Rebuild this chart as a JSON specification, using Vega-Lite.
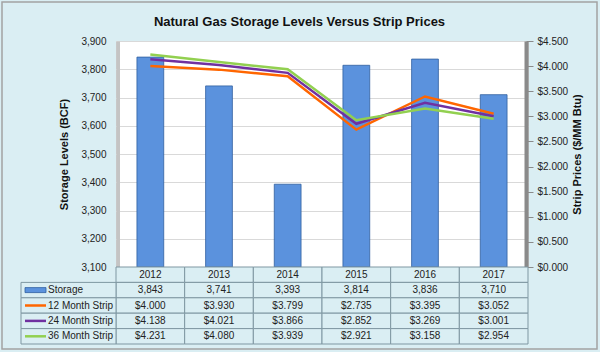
{
  "$schema": "https://vega.github.io/schema/vega-lite/v6.json",
  "width": 412,
  "height": 226,
  "autosize": {"type": "none"},
  "padding": {"left": 116, "top": 41, "right": 72, "bottom": 85},
  "background": "#daeef3",
  "config": {
    "view": {"fill": "white", "stroke": "#c8c8c8"},
    "font": "Liberation Sans"
  },
  "title": {
    "text": "Natural Gas Storage Levels Versus Strip Prices",
    "font": "Liberation Sans",
    "fontSize": 13,
    "fontWeight": "bold",
    "color": "#111111",
    "anchor": "middle",
    "frame": "bounds",
    "offset": -28
  },
  "datasets": {
    "storage": [
      {"year": "2012", "storage": 3843},
      {"year": "2013", "storage": 3741},
      {"year": "2014", "storage": 3393},
      {"year": "2015", "storage": 3814},
      {"year": "2016", "storage": 3836},
      {"year": "2017", "storage": 3710}
    ],
    "prices": [
      {"year": "2012", "series": "12 Month Strip", "price": 4.000},
      {"year": "2013", "series": "12 Month Strip", "price": 3.930},
      {"year": "2014", "series": "12 Month Strip", "price": 3.799},
      {"year": "2015", "series": "12 Month Strip", "price": 2.735},
      {"year": "2016", "series": "12 Month Strip", "price": 3.395},
      {"year": "2017", "series": "12 Month Strip", "price": 3.052},
      {"year": "2012", "series": "24 Month Strip", "price": 4.138},
      {"year": "2013", "series": "24 Month Strip", "price": 4.021},
      {"year": "2014", "series": "24 Month Strip", "price": 3.866},
      {"year": "2015", "series": "24 Month Strip", "price": 2.852},
      {"year": "2016", "series": "24 Month Strip", "price": 3.269},
      {"year": "2017", "series": "24 Month Strip", "price": 3.001},
      {"year": "2012", "series": "36 Month Strip", "price": 4.231},
      {"year": "2013", "series": "36 Month Strip", "price": 4.080},
      {"year": "2014", "series": "36 Month Strip", "price": 3.939},
      {"year": "2015", "series": "36 Month Strip", "price": 2.921},
      {"year": "2016", "series": "36 Month Strip", "price": 3.158},
      {"year": "2017", "series": "36 Month Strip", "price": 2.954}
    ],
    "rows": [
      {"name": "Storage"},
      {"name": "12 Month Strip"},
      {"name": "24 Month Strip"},
      {"name": "36 Month Strip"}
    ]
  },
  "resolve": {"scale": {"x": "independent", "y": "independent", "color": "independent"}},
  "layer": [
    {
      "data": {"values": [{}]},
      "mark": {"type": "rect", "fill": null, "stroke": "#a3a3a3", "strokeWidth": 1.5},
      "encoding": {
        "x": {"datum": 0, "type": "quantitative", "scale": {"domain": [0, 1], "range": [-114, 481]}, "axis": null},
        "x2": {"datum": 1},
        "y": {"datum": 0, "type": "quantitative", "scale": {"domain": [0, 1], "range": [-39, 308]}, "axis": null},
        "y2": {"datum": 1}
      }
    },
    {
      "data": {"name": "storage"},
      "mark": {"type": "bar", "fill": "#5b92dd", "stroke": "#30609f", "strokeWidth": 0.8, "width": {"band": 0.39}},
      "encoding": {
        "x": {"field": "year", "type": "ordinal", "scale": {"domain": ["2012", "2013", "2014", "2015", "2016", "2017"], "range": [0, 412], "paddingInner": 0, "paddingOuter": 0}, "axis": null},
        "y": {
          "field": "storage", "type": "quantitative",
          "scale": {"domain": [3100, 3900], "range": [226, 0], "zero": false, "nice": false},
          "axis": {
            "orient": "left", "offset": -2,
            "values": [3100, 3200, 3300, 3400, 3500, 3600, 3700, 3800, 3900],
            "format": ",.0f", "grid": true, "gridColor": "#d9d9d9",
            "domain": true, "domainColor": "#c4c4c4", "domainWidth": 3,
            "ticks": false, "labelPadding": 12, "labelFontSize": 10, "labelColor": "#222222",
            "title": "Storage Levels (BCF)", "titleFontSize": 11, "titleFontWeight": "bold",
            "titleColor": "#111111", "titlePadding": 11
          }
        },
        "y2": {"datum": 3100}
      }
    },
    {
      "data": {"name": "prices"},
      "mark": {"type": "line", "strokeWidth": 2.5},
      "encoding": {
        "x": {"field": "year", "type": "ordinal", "scale": {"domain": ["2012", "2013", "2014", "2015", "2016", "2017"], "range": [0, 412], "paddingInner": 0, "paddingOuter": 0}, "axis": null},
        "y": {
          "field": "price", "type": "quantitative",
          "scale": {"domain": [0, 4.5], "range": [226, 0], "nice": false},
          "axis": {
            "orient": "right", "offset": -2,
            "values": [0, 0.5, 1, 1.5, 2, 2.5, 3, 3.5, 4, 4.5],
            "format": "$.3f", "grid": false,
            "domain": true, "domainColor": "#8a8a8a", "domainWidth": 4,
            "ticks": true, "tickColor": "#8a8a8a", "tickSize": 7,
            "labelPadding": 4, "labelFontSize": 10, "labelColor": "#222222",
            "title": "Strip Prices ($/MM Btu)", "titleFontSize": 11, "titleFontWeight": "bold",
            "titleColor": "#111111", "titleAngle": 270, "titleBaseline": "top", "titlePadding": 4
          }
        },
        "color": {"field": "series", "type": "nominal", "scale": {"domain": ["12 Month Strip", "24 Month Strip", "36 Month Strip"], "range": ["#ff6600", "#7030a0", "#92d050"]}, "legend": null}
      }
    },
    {
      "data": {"name": "storage"},
      "mark": {"type": "rect", "fill": "#daeef3", "stroke": "#7f97a2", "strokeWidth": 1},
      "encoding": {
        "x": {"field": "year", "type": "ordinal", "scale": {"domain": ["2012", "2013", "2014", "2015", "2016", "2017"], "range": [0, 412], "paddingInner": 0, "paddingOuter": 0}, "axis": null},
        "y": {"datum": "hdr", "type": "nominal", "scale": {"domain": ["hdr", "Storage", "12 Month Strip", "24 Month Strip", "36 Month Strip"], "range": [226, 303], "paddingInner": 0, "paddingOuter": 0}, "axis": null}
      }
    },
    {
      "data": {"name": "storage"},
      "mark": {"type": "rect", "fill": "#daeef3", "stroke": "#7f97a2", "strokeWidth": 1},
      "encoding": {
        "x": {"field": "year", "type": "ordinal", "scale": {"domain": ["2012", "2013", "2014", "2015", "2016", "2017"], "range": [0, 412], "paddingInner": 0, "paddingOuter": 0}, "axis": null},
        "y": {"datum": "Storage", "type": "nominal", "scale": {"domain": ["hdr", "Storage", "12 Month Strip", "24 Month Strip", "36 Month Strip"], "range": [226, 303], "paddingInner": 0, "paddingOuter": 0}, "axis": null}
      }
    },
    {
      "data": {"name": "prices"},
      "mark": {"type": "rect", "fill": "#daeef3", "stroke": "#7f97a2", "strokeWidth": 1},
      "encoding": {
        "x": {"field": "year", "type": "ordinal", "scale": {"domain": ["2012", "2013", "2014", "2015", "2016", "2017"], "range": [0, 412], "paddingInner": 0, "paddingOuter": 0}, "axis": null},
        "y": {"field": "series", "type": "nominal", "scale": {"domain": ["hdr", "Storage", "12 Month Strip", "24 Month Strip", "36 Month Strip"], "range": [226, 303], "paddingInner": 0, "paddingOuter": 0}, "axis": null}
      }
    },
    {
      "data": {"name": "rows"},
      "mark": {"type": "rect", "fill": "#daeef3", "stroke": "#7f97a2", "strokeWidth": 1},
      "encoding": {
        "x": {"datum": "lab", "type": "nominal", "scale": {"domain": ["lab"], "range": [-95, 0], "paddingInner": 0, "paddingOuter": 0}, "axis": null},
        "y": {"field": "name", "type": "nominal", "scale": {"domain": ["hdr", "Storage", "12 Month Strip", "24 Month Strip", "36 Month Strip"], "range": [226, 303], "paddingInner": 0, "paddingOuter": 0}, "axis": null}
      }
    },
    {
      "data": {"name": "storage"},
      "mark": {"type": "text", "fontSize": 10, "color": "#222222", "baseline": "middle"},
      "encoding": {
        "x": {"field": "year", "type": "ordinal", "scale": {"domain": ["2012", "2013", "2014", "2015", "2016", "2017"], "range": [0, 412], "paddingInner": 0, "paddingOuter": 0}, "axis": null},
        "y": {"datum": "hdr", "type": "nominal", "scale": {"domain": ["hdr", "Storage", "12 Month Strip", "24 Month Strip", "36 Month Strip"], "range": [226, 303], "paddingInner": 0, "paddingOuter": 0}, "axis": null},
        "text": {"field": "year"}
      }
    },
    {
      "data": {"name": "storage"},
      "mark": {"type": "text", "fontSize": 10, "color": "#222222", "baseline": "middle"},
      "encoding": {
        "x": {"field": "year", "type": "ordinal", "scale": {"domain": ["2012", "2013", "2014", "2015", "2016", "2017"], "range": [0, 412], "paddingInner": 0, "paddingOuter": 0}, "axis": null},
        "y": {"datum": "Storage", "type": "nominal", "scale": {"domain": ["hdr", "Storage", "12 Month Strip", "24 Month Strip", "36 Month Strip"], "range": [226, 303], "paddingInner": 0, "paddingOuter": 0}, "axis": null},
        "text": {"field": "storage", "type": "quantitative", "format": ",.0f"}
      }
    },
    {
      "data": {"name": "prices"},
      "mark": {"type": "text", "fontSize": 10, "color": "#222222", "baseline": "middle"},
      "encoding": {
        "x": {"field": "year", "type": "ordinal", "scale": {"domain": ["2012", "2013", "2014", "2015", "2016", "2017"], "range": [0, 412], "paddingInner": 0, "paddingOuter": 0}, "axis": null},
        "y": {"field": "series", "type": "nominal", "scale": {"domain": ["hdr", "Storage", "12 Month Strip", "24 Month Strip", "36 Month Strip"], "range": [226, 303], "paddingInner": 0, "paddingOuter": 0}, "axis": null},
        "text": {"field": "price", "type": "quantitative", "format": "$.3f"}
      }
    },
    {
      "data": {"name": "rows"},
      "mark": {"type": "text", "fontSize": 10, "color": "#222222", "baseline": "middle", "align": "left", "dx": -20.5},
      "encoding": {
        "x": {"datum": "lab", "type": "nominal", "scale": {"domain": ["lab"], "range": [-95, 0], "paddingInner": 0, "paddingOuter": 0}, "axis": null},
        "y": {"field": "name", "type": "nominal", "scale": {"domain": ["hdr", "Storage", "12 Month Strip", "24 Month Strip", "36 Month Strip"], "range": [226, 303], "paddingInner": 0, "paddingOuter": 0}, "axis": null},
        "text": {"field": "name"}
      }
    },
    {
      "data": {"name": "rows"},
      "transform": [{"filter": {"field": "name", "equal": "Storage"}}],
      "mark": {"type": "rect", "width": 21, "height": 5, "fill": "#5b92dd", "stroke": "#2f5f9f", "strokeWidth": 0.8, "xOffset": -33},
      "encoding": {
        "x": {"datum": "lab", "type": "nominal", "scale": {"domain": ["lab"], "range": [-95, 0], "paddingInner": 0, "paddingOuter": 0}, "axis": null},
        "y": {"field": "name", "type": "nominal", "scale": {"domain": ["hdr", "Storage", "12 Month Strip", "24 Month Strip", "36 Month Strip"], "range": [226, 303], "paddingInner": 0, "paddingOuter": 0}, "axis": null}
      }
    },
    {
      "data": {"name": "rows"},
      "transform": [{"filter": {"not": {"field": "name", "equal": "Storage"}}}],
      "mark": {"type": "rect", "width": 21, "height": 2.5, "xOffset": -33},
      "encoding": {
        "x": {"datum": "lab", "type": "nominal", "scale": {"domain": ["lab"], "range": [-95, 0], "paddingInner": 0, "paddingOuter": 0}, "axis": null},
        "y": {"field": "name", "type": "nominal", "scale": {"domain": ["hdr", "Storage", "12 Month Strip", "24 Month Strip", "36 Month Strip"], "range": [226, 303], "paddingInner": 0, "paddingOuter": 0}, "axis": null},
        "color": {"field": "name", "type": "nominal", "scale": {"domain": ["12 Month Strip", "24 Month Strip", "36 Month Strip"], "range": ["#ff6600", "#7030a0", "#92d050"]}, "legend": null}
      }
    }
  ]
}
